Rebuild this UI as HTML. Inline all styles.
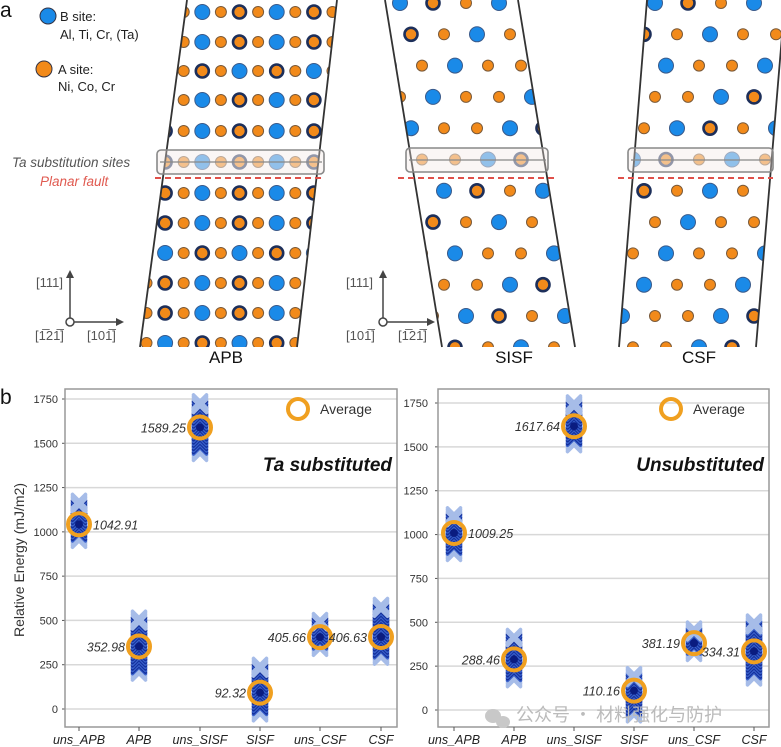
<!DOCTYPE html>
<html><head><meta charset="utf-8"><style>
html,body{margin:0;padding:0;background:#fff;width:781px;height:747px;overflow:hidden}
svg{display:block;font-family:"Liberation Sans",sans-serif}
</style></head><body>
<svg id="s" width="781" height="747" viewBox="0 0 781 747" xmlns="http://www.w3.org/2000/svg">
<defs>
<clipPath id="cA"><polygon points="187,0 337,0 297,347 140,347"/></clipPath>
<clipPath id="cS"><polygon points="385,0 518,0 575,347 442,347"/></clipPath>
<clipPath id="cC"><polygon points="647,0 785,0 756,347 619,347"/></clipPath>
</defs>
<g id="atoms"></g>
<g stroke="#333" stroke-width="1.8" fill="none">
<line x1="187" y1="0" x2="140" y2="347"/><line x1="337" y1="0" x2="297" y2="347"/>
<line x1="385" y1="0" x2="442" y2="347"/><line x1="518" y1="0" x2="575" y2="347"/>
<line x1="647" y1="0" x2="619" y2="347"/><line x1="785" y1="0" x2="756" y2="347"/>
</g>
<g fill="rgba(240,230,225,0.35)" stroke="#888" stroke-width="1.6">
<rect x="157" y="150" width="167" height="24" rx="4"/>
<rect x="406" y="148" width="142" height="24" rx="4"/>
<rect x="628" y="148" width="145" height="24" rx="4"/>
</g>
<g stroke="#888" stroke-width="1.3"><line x1="160" y1="162" x2="322" y2="162"/><line x1="409" y1="160" x2="546" y2="160"/><line x1="631" y1="160" x2="771" y2="160"/></g>
<g stroke="#e0504a" stroke-width="2" stroke-dasharray="6,4">
<line x1="155" y1="178" x2="325" y2="178"/><line x1="398" y1="178" x2="555" y2="178"/><line x1="618" y1="178" x2="773" y2="178"/>
</g>
<text x="0" y="17" font-size="21" fill="#111">a</text>
<circle cx="48" cy="16" r="8" fill="#1a8ae8" stroke="#334" stroke-width="1"/>
<text x="60" y="21" font-size="13" fill="#222">B site:</text>
<text x="60" y="39" font-size="13" fill="#222">Al, Ti, Cr, (Ta)</text>
<circle cx="44" cy="69" r="8" fill="#f28a1a" stroke="#334" stroke-width="1"/>
<text x="58" y="74" font-size="13" fill="#222">A site:</text>
<text x="58" y="91" font-size="13" fill="#222">Ni, Co, Cr</text>
<text x="12" y="167" font-size="13.5" font-style="italic" fill="#555">Ta substitution sites</text>
<text x="40" y="186" font-size="13.5" font-style="italic" fill="#e05a50">Planar fault</text>
<g stroke="#444" stroke-width="1.5" fill="none">
<line x1="70" y1="318" x2="70" y2="276"/><line x1="74" y1="322" x2="120" y2="322"/>
<circle cx="70" cy="322" r="4"/>
<line x1="383" y1="318" x2="383" y2="276"/><line x1="387" y1="322" x2="431" y2="322"/>
<circle cx="383" cy="322" r="4"/>
</g>
<g fill="#444"><polygon points="70,270 66,278 74,278"/><polygon points="124,322 116,318 116,326"/>
<polygon points="383,270 379,278 387,278"/><polygon points="435,322 427,318 427,326"/></g>
<g font-size="13" fill="#555">
<text x="36" y="287">[111]</text><text x="35" y="340">[1̅21̅]</text><text x="87" y="340">[101̅]</text>
<text x="346" y="287">[111]</text><text x="346" y="340">[101̅]</text><text x="398" y="340">[1̅21̅]</text>
</g>
<g font-size="17" fill="#111" text-anchor="middle">
<text x="226" y="363">APB</text><text x="514" y="363">SISF</text><text x="699" y="363">CSF</text>
</g>
<text x="0" y="404" font-size="21" fill="#111">b</text>
<g id="charts"></g>
<text transform="translate(24,560) rotate(-90)" font-size="14" fill="#333" text-anchor="middle">Relative Energy (mJ/m2)</text>
<text x="516" y="721" font-size="18" fill="#bbb" font-family="'Noto Sans CJK SC',sans-serif">公众号 · 材料强化与防护</text>
<g fill="#c8c8c8"><ellipse cx="493" cy="716" rx="8" ry="7"/><ellipse cx="503" cy="722" rx="7" ry="6"/></g>
</svg>
<script>
var NS="http://www.w3.org/2000/svg";
function el(t,a,p){var e=document.createElementNS(NS,t);for(var k in a)e.setAttribute(k,a[k]);p.appendChild(e);return e;}
var atoms=document.getElementById('atoms');
function atom(g,x,y,type,fade){
 var o=fade?0.7:1;
 if(type==0)el('circle',{cx:x,cy:y,r:5.5,fill:'#f28a1a',stroke:'#7a5a3a','stroke-width':1,opacity:o},g);
 else if(type==1)el('circle',{cx:x,cy:y,r:7.5,fill:'#1a8ae8',stroke:'#3a5a8a','stroke-width':1,opacity:o},g);
 else el('circle',{cx:x,cy:y,r:6.5,fill:'#f28a1a',stroke:'#1d2f5a','stroke-width':2.6,opacity:o},g);
}
var gA=el('g',{'clip-path':'url(#cA)'},atoms);
var rowsA=[12,42,71,100,131,162,193,223,253,283,313,343];
var phA=[0,0,1,0,0,0,0,0,1,0,0,1];
for(var r=0;r<rowsA.length;r++){
 for(var k=0;k<12;k++){
  var x=146.5+18.6*k; var t;
  if(k%2==0)t=0;else{var b=((k-1)/2+phA[r])%2; t=b?1:2;}
  atom(gA,x,rowsA[r],t,r==5);
 }
}
function slab(clip,x0,dir){
 var g=el('g',{'clip-path':'url(#'+clip+')'},atoms);
 for(var r=-1;r<12;r++){
  var y=3+r*31.3;
  var sh=(r>=5)?-(r-5)*11*dir+11*dir*5:r*11*dir;
  for(var k=-3;k<10;k++){
   var x=x0+sh+k*33;
   var idx=((k+r*7)%3+3)%3; var t=idx==0?1:(idx==1?2:0);
   if((k+r)%2==0 && t==2) t=0;
   atom(g,x,y,t,r==5);
  }
 }
}
slab('cS',400,1);
slab('cC',655,-1);
var ch=document.getElementById('charts');
function chart(L,R,T,B,y0,y1750,cats,ticksX,data,title,avgx){
 var sc=(y0-y1750)/1750;
 function Y(v){return y0-v*sc;}
 for(var v=0;v<=1750;v+=250){
  el('line',{x1:L,x2:R,y1:Y(v),y2:Y(v),stroke:'#d8d8d8','stroke-width':1.5},ch);
  var t=el('text',{x:ticksX,y:Y(v)+4,'font-size':11,fill:'#333','text-anchor':'end'},ch);t.textContent=v;
  el('line',{x1:L-3,x2:L,y1:Y(v),y2:Y(v),stroke:'#555'},ch);
 }
 el('rect',{x:L,y:T,width:R-L,height:B-T,fill:'none',stroke:'#999','stroke-width':1.5},ch);
 var names=['uns_APB','APB','uns_SISF','SISF','uns_CSF','CSF'];
 for(var i=0;i<6;i++){
  var cx=cats[i],d=data[i];
  el('line',{x1:cx,x2:cx,y1:B,y2:B+4,stroke:'#555'},ch);
  var tt=el('text',{x:cx,y:744,'font-size':12.5,'font-style':'italic',fill:'#222','text-anchor':'middle'},ch);tt.textContent=names[i];
  var n=0;
  for(var v=d[0];v<=d[1];v+=9){
   var yy=Y(v); var edge=(v-d[0]<35||d[1]-v<35);
   var col=edge?'#a6bce8':((n++%2)?'#14309c':'#3a62cc');
   var s=6.5;
   el('path',{d:'M'+(cx-s)+' '+(yy-s)+'L'+(cx+s)+' '+(yy+s)+'M'+(cx+s)+' '+(yy-s)+'L'+(cx-s)+' '+(yy+s),stroke:col,'stroke-width':3.5,'stroke-linecap':'round',fill:'none'},ch);
  }
  el('circle',{cx:cx,cy:Y(d[2]),r:4,fill:'#0a1c80'},ch);
  el('circle',{cx:cx,cy:Y(d[2]),r:11,fill:'none',stroke:'#f0a020','stroke-width':4},ch);
  var lt=el('text',{x:cx+(d[3]>0?14:-14),y:Y(d[2])+5,'font-size':12.5,'font-style':'italic',fill:'#333','text-anchor':d[3]>0?'start':'end'},ch);lt.textContent=d[4];
 }
 el('circle',{cx:avgx,cy:409,r:10,fill:'none',stroke:'#f0a020','stroke-width':4},ch);
 var at=el('text',{x:avgx+22,y:414,'font-size':14,fill:'#333'},ch);at.textContent='Average';
 var ti=el('text',{x:R-5,y:471,'font-size':19,'font-weight':'bold','font-style':'italic',fill:'#111','text-anchor':'end'},ch);ti.textContent=title;
}
chart(65,397,389,727,709,399,[79,139,200,260,320,381],58,[
 [950,1180,1042.91,1,'1042.91'],[200,520,352.98,-1,'352.98'],[1440,1740,1589.25,-1,'1589.25'],
 [-30,250,92.32,-1,'92.32'],[340,510,405.66,-1,'405.66'],[290,590,406.63,-1,'406.63']],'Ta substituted',298);
chart(438,769,389,727,710,403,[454,514,574,634,694,754],428,[
 [890,1120,1009.25,1,'1009.25'],[170,430,288.46,-1,'288.46'],[1510,1760,1617.64,-1,'1617.64'],
 [-30,210,110.16,-1,'110.16'],[320,470,381.19,-1,'381.19'],[180,510,334.31,-1,'334.31']],'Unsubstituted',671);
</script>
</body></html>
